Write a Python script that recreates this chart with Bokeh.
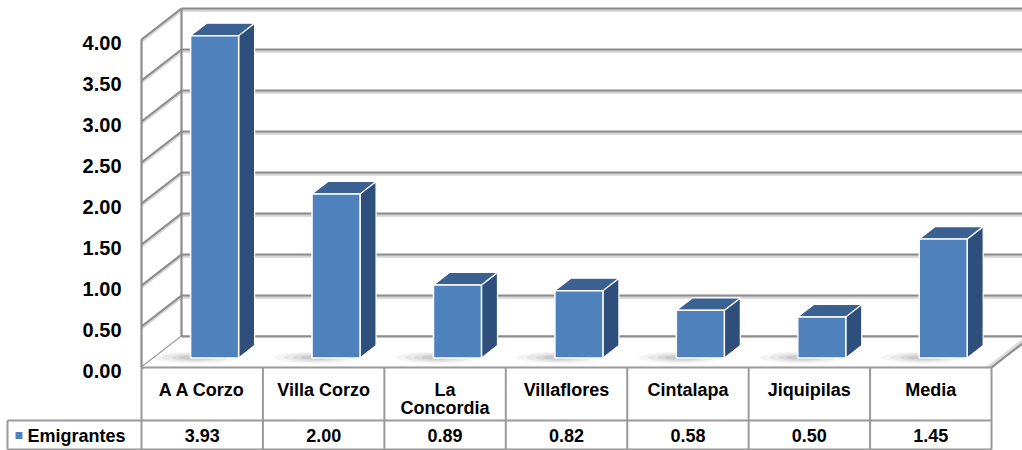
import numpy as np
from bokeh.plotting import figure
from bokeh.models import Range1d
from bokeh.core.properties import value
from bokeh.embed import file_html
from bokeh.resources import INLINE

# ---------------- data ----------------
categories = ["A A Corzo", "Villa Corzo", "La\nConcordia", "Villaflores",
              "Cintalapa", "Jiquipilas", "Media"]
emigrantes = [3.93, 2.00, 0.89, 0.82, 0.58, 0.50, 1.45]
series_name = "Emigrantes"
y_ticks = [0.0, 0.5, 1.0, 1.5, 2.0, 2.5, 3.0, 3.5, 4.0]
tick_labels = ["%.2f" % t for t in y_ticks]

# ---------------- layout (pixels -> data units) ----------------
W, H = 1022, 450
PX_X = 121.43          # pixels per category slot
PX_Y = 82.0            # pixels per value unit
ORIG_X = 141           # canvas x of category 0 left edge
ORIG_Y = 367           # canvas y of value 0 (front)

def cx(px):  # canvas px -> data x
    return (px - ORIG_X) / PX_X

def cy(py):  # canvas py -> data y
    return (ORIG_Y - py) / PX_Y

n = len(categories)
DX, DY = 40 / PX_X, 31 / PX_Y       # full depth of the floor
F0, FB = 0.31, 0.40                 # bar front depth / bar depth fraction
BAR_W = 48 / PX_X
YMAX = max(y_ticks)

FRONT = "#4F81BD"
SIDE = "#2E4F7C"
TOP = "#3A6191"
GRID = "#8c8c8c"
FONT = value("Liberation Sans")

p = figure(width=W, height=H, output_backend="svg", toolbar_location=None,
           x_range=Range1d(cx(0), cx(W)), y_range=Range1d(cy(H), cy(0)),
           x_axis_type=None, y_axis_type=None, min_border=0,
           outline_line_color=None, background_fill_color="white",
           border_fill_color="white")
p.grid.visible = False

# ---------------- walls & gridlines ----------------
sx = [[0, DX] for t in y_ticks]
sy = [[t, t + DY] for t in y_ticks]
bx = [[DX, n + DX] for t in y_ticks]
by = [[t + DY, t + DY] for t in y_ticks]
p.multi_line(sx, [[v - 0.02 for v in s] for s in sy], line_color="#d4d4d4", line_width=3)
p.multi_line(bx, [[v - 0.02 for v in s] for s in by], line_color="#d4d4d4", line_width=3)
p.multi_line(sx, sy, line_color=GRID, line_width=2.2)
p.multi_line(bx, by, line_color=GRID, line_width=2.2)
p.multi_line([[0, 0], [DX, DX]], [[0, YMAX], [DY, YMAX + DY]],
             line_color=GRID, line_width=2.2)

# ---------------- floor ----------------
p.patch([0, n, n + DX, DX], [0, 0, DY, DY], fill_color="white", line_color=None)
p.patch([n - 0.05, n, n + DX, n + DX - 0.05], [0, 0, DY, DY],
        fill_color="#bbbbbb", fill_alpha=0.5, line_color=None)
p.multi_line([[DX, n + DX], [n, n + DX]], [[DY, DY], [0, DY]],
             line_color=GRID, line_width=2.2)

# ---------------- bars ----------------
vals = np.array(emigrantes)
idx = np.arange(n)
xl = idx + 0.5 - BAR_W / 2 + F0 * DX
xr = xl + BAR_W
yb = np.full(n, F0 * DY)
yt = yb + vals
ox, oy = FB * DX, FB * DY

# soft shadows on the floor (left of each bar base)
for k, a in [(1.8, 0.04), (1.4, 0.05), (1.0, 0.06), (0.7, 0.07)]:
    p.ellipse(x=xl + BAR_W * 0.1, y=yb + 0.005, width=BAR_W * k, height=0.11 * k / 1.4,
              fill_color="black", fill_alpha=a, line_color=None)

side_x = [[r, r + ox, r + ox, r] for r in xr]
side_y = [[b, b + oy, t + oy, t] for b, t in zip(yb, yt)]
top_x = [[l, r, r + ox, l + ox] for l, r in zip(xl, xr)]
top_y = [[t, t, t + oy, t + oy] for t in yt]
p.patches(side_x, side_y, fill_color=SIDE, line_color="white", line_width=1.2)
p.patches(top_x, top_y, fill_color=TOP, line_color="white", line_width=1.2)
p.quad(left=xl, right=xr, bottom=yb, top=yt, fill_color=FRONT,
       line_color="white", line_width=1.5)

# ---------------- y tick labels ----------------
p.text(x=[cx(121)] * len(y_ticks), y=[t - 3 / PX_Y for t in y_ticks],
       text=tick_labels, text_align="right", text_baseline="middle",
       text_font=FONT, text_font_style="bold", text_font_size="20px",
       text_color="black")

# ---------------- data table ----------------
ROW1 = cy(420)
ROW2 = cy(449)
LEG_L = cx(7)
TBL = "#9a9a9a"
hx = [[0, n], [LEG_L, n], [LEG_L, n]]
hy = [[0, 0], [ROW1, ROW1], [ROW2, ROW2]]
vx = [[i, i] for i in range(n + 1)] + [[LEG_L, LEG_L]]
vy = [[0, ROW2] for i in range(n + 1)] + [[ROW1, ROW2]]
p.multi_line(hx + vx, hy + vy, line_color=TBL, line_width=2)

p.text(x=idx + 0.5, y=[cy(379)] * n, text=categories,
       text_align="center", text_baseline="top", text_line_height=0.93,
       text_font=FONT, text_font_style="bold", text_font_size="18px",
       text_color="black")
p.text(x=idx + 0.5, y=[cy(435)] * n, text=["%.2f" % v for v in emigrantes],
       text_align="center", text_baseline="middle",
       text_font=FONT, text_font_style="bold", text_font_size="18px",
       text_color="black")
p.scatter(x=[cx(18.5)], y=[cy(435)], marker="square", size=7,
          fill_color=FRONT, line_color=None)
p.text(x=[cx(27)], y=[cy(435)], text=[series_name],
       text_align="left", text_baseline="middle",
       text_font=FONT, text_font_style="bold", text_font_size="18px",
       text_color="black")

open("out.html", "w").write(file_html(p, INLINE))
